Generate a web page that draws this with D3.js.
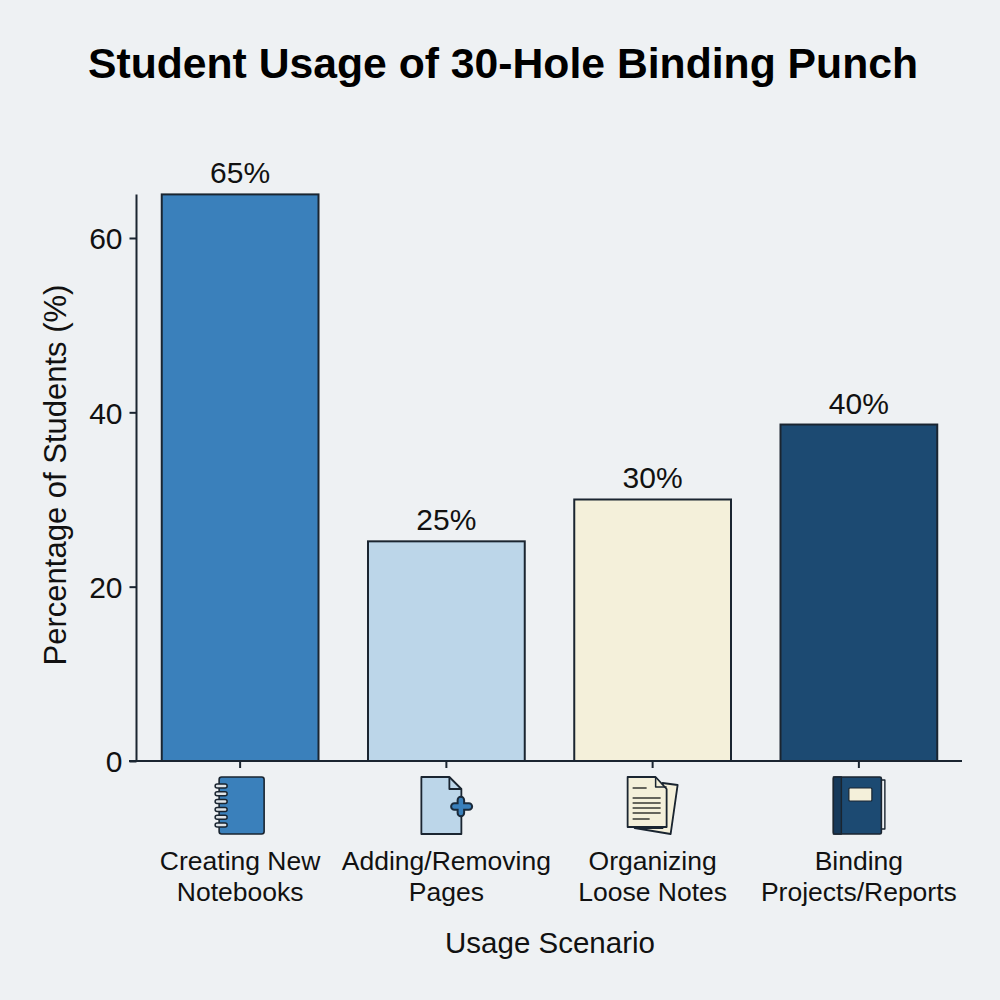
<!DOCTYPE html>
<html><head><meta charset="utf-8">
<script src="https://cdnjs.cloudflare.com/ajax/libs/d3/7.8.5/d3.min.js"></script>
<style>html,body{margin:0;padding:0;background:#eef1f3}svg{display:block}text{font-family:"Liberation Sans",Arial,sans-serif;fill:#111}</style>
</head><body><div id="c"></div>
<script>
const categories=["Creating New|Notebooks","Adding/Removing|Pages","Organizing|Loose Notes","Binding|Projects/Reports"];
const values=[65,25.2,30,38.6];
const valueLabels=["65%","25%","30%","40%"];
const colors=["#3a80bb","#bcd6e9","#f4f0da","#1c4a72"];
const yTicks=[0,20,40,60];
const title="Student Usage of 30-Hole Binding Punch";
const yTitle="Percentage of Students (%)";
const xTitle="Usage Scenario";
const ink="#1a2530";

const svg=d3.select("#c").append("svg").attr("width",1000).attr("height",1000);
svg.append("rect").attr("width",1000).attr("height",1000).attr("fill","#eef1f3");
const x=d3.scaleBand().domain(categories).range([137,962]).paddingInner(0.24).paddingOuter(0.12);
const y=d3.scaleLinear().domain([0,65]).range([761,194.4]);

svg.append("text").attr("x",503).attr("y",78).attr("text-anchor","middle").attr("font-size",42.7).attr("font-weight","bold").style("fill","#000").text(title);

svg.selectAll(".bar").data(categories).join("rect").attr("class","bar")
 .attr("x",d=>x(d)).attr("width",x.bandwidth())
 .attr("y",(d,i)=>y(values[i])).attr("height",(d,i)=>y(0)-y(values[i]))
 .attr("fill",(d,i)=>colors[i]).attr("stroke",ink).attr("stroke-width",2);

svg.selectAll(".vl").data(categories).join("text").attr("class","vl")
 .attr("x",d=>x(d)+x.bandwidth()/2).attr("y",(d,i)=>y(values[i])-11)
 .attr("text-anchor","middle").attr("font-size",30).text((d,i)=>valueLabels[i]);

// axes
const ya=svg.append("g").attr("transform","translate(136.5,0)").call(d3.axisLeft(y).tickValues(yTicks).tickSize(7).tickPadding(7));
ya.selectAll("path").attr("stroke",ink).attr("stroke-width",2).attr("d","M0,761V194.4");
ya.selectAll("line").attr("stroke",ink).attr("stroke-width",2);
ya.selectAll("text").attr("font-size",30).attr("font-family",null).attr("dy","0.36em");
const xa=svg.append("g").attr("transform","translate(0,761)").call(d3.axisBottom(x).tickSize(7).tickFormat(""));
xa.selectAll("path").attr("stroke",ink).attr("stroke-width",2).attr("d","M129,0H962");
xa.selectAll("line").attr("stroke",ink).attr("stroke-width",2);

// category labels
const lab=svg.selectAll(".cat").data(categories).join("text").attr("class","cat").attr("text-anchor","middle").attr("font-size",26.5);
lab.each(function(d){
  const t=d3.select(this),cx=x(d)+x.bandwidth()/2;
  d.split("|").forEach((s,i)=>t.append("tspan").attr("x",cx).attr("y",870+i*31).text(s));
});
svg.append("text").attr("x",550).attr("y",953).attr("text-anchor","middle").attr("font-size",29.5).text(xTitle);
svg.append("text").attr("transform","translate(66,475) rotate(-90)").attr("text-anchor","middle").attr("font-size",31).text(yTitle);

// icons, drawn in local coordinates about each tick
const ic=categories.map(d=>svg.append("g").attr("transform",`translate(${x(d)+x.bandwidth()/2},0)`).attr("stroke",ink).attr("stroke-linejoin","round"));
const dk="#1a2a3a";
// notebook
ic[0].append("rect").attr("x",-21).attr("y",777).attr("width",45).attr("height",57).attr("rx",2.5).attr("fill",colors[0]).attr("stroke-width",1.6);
d3.range(6).forEach(i=>ic[0].append("rect").attr("x",-25).attr("y",784+i*7.8).attr("width",12).attr("height",4).attr("rx",2).attr("fill","#dfe4e8").attr("stroke-width",1.5));
// page plus
ic[1].append("path").attr("d","M-25,777H3L15,789V834H-25Z").attr("fill",colors[1]).attr("stroke-width",1.8);
ic[1].append("path").attr("d","M3,777V789H15").attr("fill","none").attr("stroke-width",1.8);
ic[1].append("path").attr("d","M14.5,800V813M8,806.5H22.5").attr("stroke",dk).attr("stroke-width",8.5).attr("stroke-linecap","round").attr("fill","none");
ic[1].append("path").attr("d","M14.5,800V813M8,806.5H22.5").attr("stroke",colors[0]).attr("stroke-width",4.5).attr("stroke-linecap","round").attr("fill","none");
// loose notes
ic[2].append("path").attr("d","M10,783L25,785L18,834L-18,828L10,828Z").attr("fill",colors[2]).attr("stroke-width",1.8);
ic[2].append("path").attr("d","M-25,777H3L14,789V827H-25Z").attr("fill",colors[2]).attr("stroke-width",1.8);
ic[2].append("path").attr("d","M3,777V787H14").attr("fill","none").attr("stroke-width",1.5);
[[-20,-6,788],[-20,8,798],[-20,8,803],[-20,8,808],[-20,8,813],[-20,-3,819]].forEach(l=>ic[2].append("line").attr("x1",l[0]).attr("x2",l[1]).attr("y1",l[2]).attr("y2",l[2]).attr("stroke","#55554e").attr("stroke-width",1.8));
// binder
ic[3].append("path").attr("d","M22,780H26V829H22Z").attr("fill","#eef1f3").attr("stroke-width",1.4);
ic[3].append("rect").attr("x",-25.5).attr("y",777).attr("width",48).attr("height",57).attr("rx",1.5).attr("fill",colors[3]).attr("stroke-width",1.6);
ic[3].append("rect").attr("x",-25.5).attr("y",777).attr("width",8).attr("height",57).attr("fill","#16395a").attr("stroke-width",1.4);
ic[3].append("rect").attr("x",-10).attr("y",788).attr("width",23).attr("height",13).attr("rx",1).attr("fill",colors[2]).attr("stroke-width",1.2);
</script></body></html>
